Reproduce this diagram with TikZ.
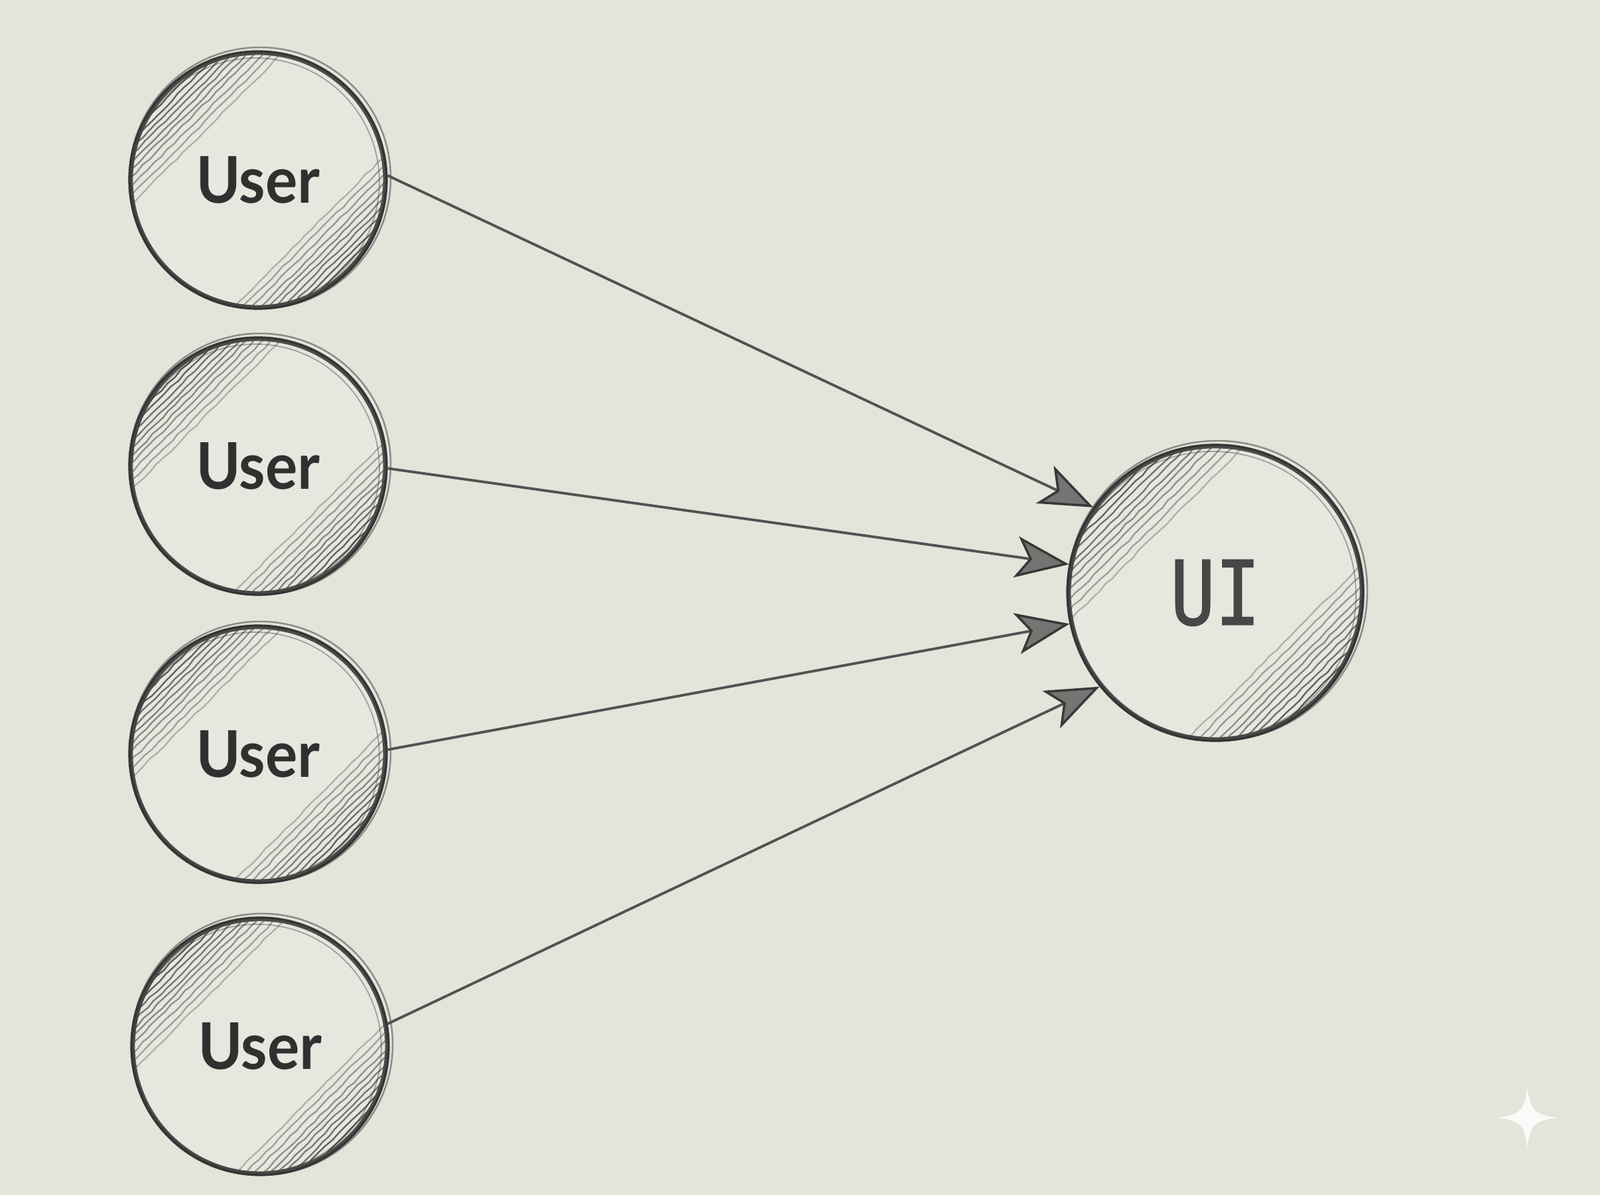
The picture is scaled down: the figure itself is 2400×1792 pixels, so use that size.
\documentclass[tikz,border=0pt]{standalone}
\usepackage{fontspec}
\setmainfont{Lato}
\newfontfamily\userfont{Lato Bold}[FakeStretch=0.93]
\newfontfamily\uifont{DejaVu Sans Mono}[FakeStretch=0.84,FakeBold=1.2]
\usetikzlibrary{arrows.meta,decorations.pathmorphing}
\definecolor{paper}{HTML}{E3E4DA}
\definecolor{ink}{HTML}{353535}
\definecolor{hatchc}{HTML}{4A4A45}
\definecolor{headfill}{HTML}{747472}
\newcommand\myhatch[2]{%
\begin{scope}[shift={(#1.center)}]
\clip (0,0) circle[radius=#2*0.01cm];
\fill[white,opacity=0.12] (0,0) circle[radius=#2*0.01cm];
\foreach \d/\op in {0.57/0.35,0.62/0.45,0.67/0.5,0.72/0.55,0.76/0.6,0.80/0.65,0.84/0.7,0.88/0.75,0.92/0.85,0.96/0.9}{
 \draw[hatchc,line width=0.65pt,opacity=\op,decorate,decoration={random steps,segment length=4pt,amplitude=0.35pt}]
   ({-0.707*\d*#2-0.707*#2},{-0.707*\d*#2+0.707*#2}) -- ({-0.707*\d*#2+0.707*#2},{-0.707*\d*#2-0.707*#2});
 \draw[hatchc,line width=0.65pt,opacity=\op,decorate,decoration={random steps,segment length=4pt,amplitude=0.35pt}]
   ({0.707*\d*#2-0.707*#2},{0.707*\d*#2+0.707*#2}) -- ({0.707*\d*#2+0.707*#2},{0.707*\d*#2-0.707*#2});
}
\end{scope}
\draw[ink,line width=0.7pt,opacity=0.5] ([shift={(3,-3)}]#1.center) circle[radius=#2*0.01cm+0.05cm];
\draw[ink,line width=0.5pt,opacity=0.4] ([shift={(-4,3)}]#1.center) circle[radius=#2*0.01cm-0.05cm];
}
\begin{document}
\begin{tikzpicture}[x=0.01cm,y=-0.01cm,
  usernode/.style={circle,draw=ink,line width=2pt,minimum size=3.82cm,inner sep=0pt,
    font=\userfont\fontsize{27.5}{30}\selectfont,text=black!92},
  uinode/.style={circle,draw=ink,line width=2pt,minimum size=4.4cm,inner sep=0pt,
    font=\uifont\fontsize{38}{42}\selectfont,text=black!82},
  link/.style={draw=black!68,line width=1.1pt,
    -{Stealth[length=0.8cm,width=0.62cm,inset=0.2cm,fill=headfill,color=black!78,line width=1pt]}},
]
\fill[paper] (0,0) rectangle (2400,1792);
\useasboundingbox (0,0) rectangle (2400,1792);

\node[usernode] (u1) at (387,270) {User};
\node[usernode] (u2) at (387,699) {User};
\node[usernode] (u3) at (387,1131) {User};
\node[usernode] (u4) at (390,1569) {User};
\node[uinode] (ui) at (1823,889) {UI};

\myhatch{u1}{191}
\myhatch{u2}{191}
\myhatch{u3}{191}
\myhatch{u4}{191}
\myhatch{ui}{220}

\draw[link] (u1.2) -- (ui.145);
\draw[link] (u2.-1) -- (ui.169);
\draw[link] (u3.2) -- (ui.192);
\draw[link] (u4.10) -- (ui.219);

% watermark sparkle
\fill[white,opacity=0.85] (2291,1631) .. controls (2296,1666) and (2301,1671) .. (2336,1676)
  .. controls (2301,1681) and (2296,1686) .. (2291,1721)
  .. controls (2286,1686) and (2281,1681) .. (2246,1676)
  .. controls (2281,1671) and (2286,1666) .. (2291,1631) -- cycle;
\end{tikzpicture}
\end{document}
